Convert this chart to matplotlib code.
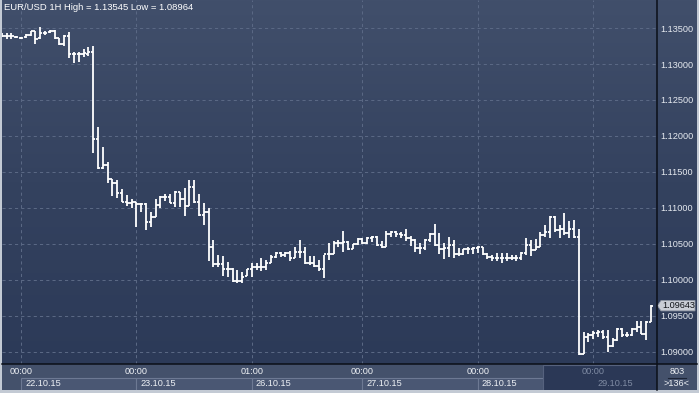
import numpy as np
import matplotlib
matplotlib.use("Agg")
import matplotlib.pyplot as plt
from matplotlib.colors import LinearSegmentedColormap
from matplotlib.patches import Rectangle, Polygon
from matplotlib.lines import Line2D
from matplotlib.transforms import blended_transform_factory

# EUR/USD 1H bars, 21.10.15 20:00 .. 29.10.15
opens = [
    1.13393, 1.13393, 1.13393, 1.13379, 1.13365, 1.13379, 1.13403, 1.13458, 1.13357, 1.13426,
    1.13440, 1.13462, 1.13357, 1.13278, 1.13393, 1.13135, 1.13135, 1.13139, 1.13145, 1.13171,
    1.11954, 1.11560, 1.11593, 1.11403, 1.11343, 1.11204, 1.11087, 1.11065, 1.11079, 1.11056,
    1.11056, 1.10810, 1.10879, 1.11042, 1.11157, 1.11157, 1.11074, 1.11218, 1.11121, 1.11032,
    1.11296, 1.11079, 1.10903, 1.10940, 1.10454, 1.10218, 1.10218, 1.10153, 1.10153, 1.09986,
    1.09986, 1.10060, 1.10149, 1.10176, 1.10176, 1.10176, 1.10240, 1.10324, 1.10371, 1.10347,
    1.10371, 1.10301, 1.10393, 1.10393, 1.10232, 1.10232, 1.10194, 1.10149, 1.10357, 1.10361,
    1.10514, 1.10518, 1.10532, 1.10431, 1.10496, 1.10569, 1.10510, 1.10579, 1.10593, 1.10486,
    1.10463, 1.10639, 1.10671, 1.10639, 1.10625, 1.10579, 1.10556, 1.10440, 1.10440, 1.10556,
    1.10639, 1.10486, 1.10431, 1.10440, 1.10486, 1.10357, 1.10357, 1.10426, 1.10426, 1.10440,
    1.10454, 1.10357, 1.10324, 1.10301, 1.10301, 1.10301, 1.10310, 1.10301, 1.10301, 1.10371,
    1.10486, 1.10417, 1.10463, 1.10625, 1.10671, 1.10879, 1.10694, 1.10704, 1.10649, 1.10704,
    1.10593, 1.08972, 1.09212, 1.09236, 1.09260, 1.09282, 1.09212, 1.09083, 1.09167, 1.09315,
    1.09236, 1.09236, 1.09315, 1.09351, 1.09250, 1.09421,
]
highs = [
    1.13426, 1.13435, 1.13435, 1.13393, 1.13379, 1.13412, 1.13462, 1.13462, 1.13520, 1.13458,
    1.13472, 1.13472, 1.13365, 1.13403, 1.13449, 1.13171, 1.13162, 1.13204, 1.13232, 1.13250,
    1.12121, 1.11843, 1.11643, 1.11399, 1.11389, 1.11264, 1.11181, 1.11125, 1.11087, 1.11065,
    1.11065, 1.10940, 1.11125, 1.11171, 1.11190, 1.11194, 1.11236, 1.11226, 1.11274, 1.11389,
    1.11389, 1.11194, 1.11065, 1.10996, 1.10556, 1.10347, 1.10333, 1.10246, 1.10160, 1.10139,
    1.10115, 1.10153, 1.10232, 1.10232, 1.10301, 1.10278, 1.10347, 1.10385, 1.10385, 1.10393,
    1.10403, 1.10463, 1.10556, 1.10454, 1.10333, 1.10333, 1.10278, 1.10347, 1.10518, 1.10542,
    1.10556, 1.10685, 1.10540, 1.10500, 1.10579, 1.10579, 1.10601, 1.10611, 1.10611, 1.10542,
    1.10681, 1.10685, 1.10680, 1.10662, 1.10704, 1.10615, 1.10569, 1.10510, 1.10569, 1.10649,
    1.10778, 1.10649, 1.10510, 1.10601, 1.10556, 1.10440, 1.10426, 1.10454, 1.10454, 1.10472,
    1.10460, 1.10371, 1.10347, 1.10379, 1.10379, 1.10371, 1.10347, 1.10347, 1.10393, 1.10579,
    1.10556, 1.10565, 1.10671, 1.10764, 1.10889, 1.10889, 1.10764, 1.10935, 1.10824, 1.10833,
    1.10704, 1.09282, 1.09260, 1.09292, 1.09306, 1.09306, 1.09306, 1.09190, 1.09329, 1.09329,
    1.09282, 1.09329, 1.09435, 1.09435, 1.09435, 1.09650,
]
lows = [
    1.13371, 1.13343, 1.13343, 1.13365, 1.13343, 1.13365, 1.13393, 1.13278, 1.13347, 1.13403,
    1.13435, 1.13343, 1.13264, 1.13250, 1.13079, 1.13010, 1.13032, 1.13101, 1.13111, 1.11768,
    1.11537, 1.11537, 1.11351, 1.11167, 1.11135, 1.11079, 1.11032, 1.10996, 1.10740, 1.10949,
    1.10694, 1.10740, 1.10879, 1.10996, 1.11101, 1.11065, 1.11018, 1.11018, 1.10893, 1.11032,
    1.11065, 1.10893, 1.10764, 1.10268, 1.10180, 1.10176, 1.10056, 1.10046, 1.09976, 1.09954,
    1.09954, 1.10056, 1.10046, 1.10139, 1.10129, 1.10139, 1.10232, 1.10310, 1.10315, 1.10315,
    1.10268, 1.10301, 1.10301, 1.10222, 1.10208, 1.10185, 1.10125, 1.10024, 1.10278, 1.10361,
    1.10463, 1.10393, 1.10417, 1.10431, 1.10486, 1.10500, 1.10500, 1.10524, 1.10472, 1.10449,
    1.10463, 1.10601, 1.10601, 1.10588, 1.10542, 1.10476, 1.10393, 1.10357, 1.10417, 1.10532,
    1.10476, 1.10357, 1.10287, 1.10324, 1.10310, 1.10337, 1.10347, 1.10361, 1.10357, 1.10371,
    1.10347, 1.10292, 1.10264, 1.10268, 1.10240, 1.10268, 1.10278, 1.10268, 1.10278, 1.10347,
    1.10333, 1.10417, 1.10463, 1.10601, 1.10579, 1.10671, 1.10579, 1.10625, 1.10579, 1.10579,
    1.08964, 1.08972, 1.09143, 1.09176, 1.09204, 1.09176, 1.09004, 1.09065, 1.09157, 1.09212,
    1.09212, 1.09222, 1.09282, 1.09250, 1.09167, 1.09421,
]
closes = [
    1.13393, 1.13393, 1.13393, 1.13375, 1.13357, 1.13403, 1.13458, 1.13347, 1.13426, 1.13435,
    1.13462, 1.13357, 1.13278, 1.13393, 1.13135, 1.13135, 1.13139, 1.13149, 1.13171, 1.11954,
    1.11560, 1.11593, 1.11403, 1.11343, 1.11204, 1.11087, 1.11065, 1.11079, 1.11056, 1.11056,
    1.10810, 1.10879, 1.11042, 1.11157, 1.11157, 1.11074, 1.11218, 1.11121, 1.11032, 1.11296,
    1.11079, 1.10903, 1.10940, 1.10454, 1.10218, 1.10218, 1.10153, 1.10153, 1.09986, 1.09986,
    1.10037, 1.10149, 1.10176, 1.10176, 1.10176, 1.10240, 1.10324, 1.10371, 1.10347, 1.10371,
    1.10301, 1.10393, 1.10393, 1.10232, 1.10232, 1.10194, 1.10149, 1.10357, 1.10361, 1.10514,
    1.10518, 1.10532, 1.10431, 1.10496, 1.10569, 1.10510, 1.10579, 1.10593, 1.10486, 1.10463,
    1.10639, 1.10671, 1.10639, 1.10625, 1.10579, 1.10556, 1.10440, 1.10440, 1.10556, 1.10639,
    1.10486, 1.10431, 1.10440, 1.10486, 1.10357, 1.10357, 1.10426, 1.10426, 1.10440, 1.10454,
    1.10357, 1.10324, 1.10301, 1.10301, 1.10301, 1.10310, 1.10301, 1.10301, 1.10371, 1.10486,
    1.10417, 1.10463, 1.10625, 1.10671, 1.10879, 1.10694, 1.10704, 1.10649, 1.10704, 1.10593,
    1.08972, 1.09212, 1.09236, 1.09260, 1.09282, 1.09212, 1.09083, 1.09167, 1.09315, 1.09236,
    1.09236, 1.09315, 1.09351, 1.09250, 1.09421, 1.09643,
]

# first bar of each day (bar index), with its time and date label
day_start = [4, 28, 52, 75, 99, 123]
day_time = ["00:00", "00:00", "01:00", "00:00", "00:00", "00:00"]
day_date = ["22.10.15", "23.10.15", "26.10.15", "27.10.15", "28.10.15", "29.10.15"]

price_levels = [1.090, 1.095, 1.100, 1.105, 1.110, 1.115, 1.120, 1.125, 1.130, 1.135]
title = "EUR/USD 1H High = 1.13545 Low = 1.08964"
bars_total, bars_shown = "803", ">136<"

plt.rcParams['font.family'] = ['Liberation Sans', 'DejaVu Sans']
FS = 6.6
W, H = 699, 393
PANEL = '#44516b'

fig = plt.figure(figsize=(W / 100, H / 100), dpi=100)
fig.patch.set_facecolor('#c3cad4')


def box(x0, y0, x1, y1):
    # pixel box (top-left origin) -> figure fraction
    return [x0 / W, 1 - y1 / H, (x1 - x0) / W, (y1 - y0) / H]


bg = LinearSegmentedColormap.from_list('bg', ['#2c3a58', '#34425f', '#414f6b'])
grad = np.linspace(0, 1, 256)[:, None]

# right price panel
rax = fig.add_axes(box(657, 0, 697, 364), zorder=1)
rax.imshow(grad, cmap=bg, origin='lower', aspect='auto', extent=[0, 1, 0, 1])
rax.set_axis_off()

# main chart
ax = fig.add_axes(box(2, 0, 657, 364), zorder=2)
x0, x1 = 0.05, 136.25
y0, y1 = 1.088333, 1.138889
ax.imshow(grad, cmap=bg, origin='lower', aspect='auto', extent=[x0, x1, y0, y1], zorder=0)
ax.set_xlim(x0, x1)
ax.set_ylim(y0, y1)

idx = np.arange(len(opens))
ax.vlines(idx, lows, highs, color='white', lw=1.3, zorder=3)
ax.hlines(opens, idx - 0.45, idx, color='white', lw=1.3, zorder=3)
ax.hlines(closes, idx, idx + 0.45, color='white', lw=1.3, zorder=3)

ax.set_xticks(day_start)
ax.set_yticks(price_levels)
ax.set_yticklabels([f"{v:.5f}" for v in price_levels])
ax.grid(color='#5a6884', lw=0.75, ls=(0, (3, 3)), zorder=1)
ax.yaxis.tick_right()
ax.tick_params(axis='x', length=0, labelbottom=False)
ax.tick_params(axis='y', length=0, pad=2.3, labelsize=FS, labelcolor='#e6eaf0')
for s in ax.spines.values():
    s.set_visible(False)

# last price marker
last = closes[-1]
tr = blended_transform_factory(fig.transFigure, ax.transData)
dy = 5.2 * (y1 - y0) / 364
poly = Polygon([(657.5 / W, last), (661 / W, last + dy), (695 / W, last + dy),
                (695 / W, last - dy), (661 / W, last - dy)],
               closed=True, transform=tr, fc='#c9cdd5', ec='#8e95a2', lw=0.6, zorder=6)
fig.add_artist(poly)
fig.text(662 / W, last, f"{last:.5f}", transform=tr, ha='left', va='center',
         fontsize=FS, color='#101318', zorder=7)

# time / date panel
bax = fig.add_axes(box(2, 364, 657, 390), zorder=1)
bax.set_xlim(x0, x1)
bax.set_ylim(26, 0)
bax.set_axis_off()
bax.add_patch(Rectangle((0, 0), 1, 1, transform=bax.transAxes, fc=PANEL, ec='none', zorder=0))
for i, s in enumerate(day_start):
    e = day_start[i + 1] if i + 1 < len(day_start) else x1
    bax.add_patch(Rectangle((s, 13.5), e - s, 13, fc='#4a5773', ec='#6d7993', lw=0.8, zorder=1))
bax.add_patch(Rectangle((112.5, 0.6), x1 - 112.5, 26, fc='#2b3856', ec='#56627e', lw=0.8, zorder=3))
for i, s in enumerate(day_start):
    col = '#7f8ba3' if s > 112.5 else '#eef1f5'
    bax.text(s, 8.0, day_time[i], ha='center', va='center', fontsize=FS, color=col, zorder=4)
    bax.text(s + 0.85, 19.6, day_date[i], ha='left', va='center', fontsize=FS, color=col, zorder=4)

# bar counter panel
cax = fig.add_axes(box(657, 364, 697, 390), zorder=1)
cax.set_xlim(0, 40)
cax.set_ylim(26, 0)
cax.set_axis_off()
cax.add_patch(Rectangle((0, 0), 1, 1, transform=cax.transAxes, fc=PANEL, ec='none', zorder=0))
cax.text(20, 7.0, bars_total, ha='center', va='center', fontsize=FS, color='#eef1f5')
cax.plot([11, 29], [13.5, 13.5], color='#1c2436', lw=0.8)
cax.text(20, 20.0, bars_shown, ha='center', va='center', fontsize=FS, color='#eef1f5')

# separator lines
fig.add_artist(Line2D([657 / W, 657 / W], [1 - 390 / H, 1], color='#0b0f18', lw=1.1, zorder=8))
fig.add_artist(Line2D([2 / W, 697 / W], [1 - 364 / H, 1 - 364 / H], color='#0b0f18', lw=1.1, zorder=8))

fig.text(4 / W, 1 - 8 / H, title, ha='left', va='center', fontsize=6.8, color='white', zorder=9)

fig.savefig('out.png', dpi=100, facecolor=fig.get_facecolor())
